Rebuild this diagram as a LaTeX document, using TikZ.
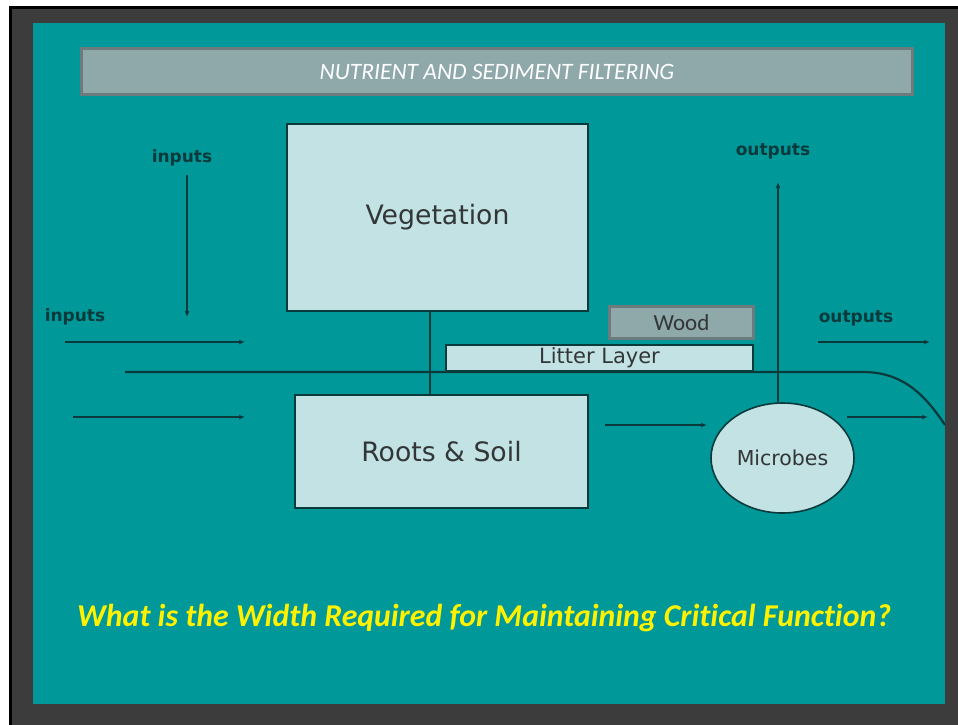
\documentclass[tikz,border=0pt]{standalone}
\usepackage{fontspec}
\usetikzlibrary{arrows.meta,shapes.geometric}

\newfontfamily\calfont[Ligatures=NoCommon]{Carlito}
\newfontfamily\dvfont{DejaVu Sans}

\definecolor{frame}{RGB}{60,60,60}
\definecolor{panel}{RGB}{0,152,152}
\definecolor{barfill}{RGB}{143,168,170}
\definecolor{barline}{RGB}{108,124,126}
\definecolor{boxfill}{RGB}{194,226,228}
\definecolor{ink}{RGB}{10,58,60}
\definecolor{textgray}{RGB}{50,54,54}

\begin{document}
\begin{tikzpicture}[x=1pt, y=-1pt,
    pool/.style={draw=ink, fill=boxfill, line width=1.6pt, inner sep=0pt, font=\dvfont\fontsize{26.7}{30}\selectfont\color{textgray}},
    strip/.style={draw=barline, fill=barfill, line width=3pt, inner sep=0pt},
    flow/.style={line width=2.2pt, draw=ink},
    arrow/.style={flow, -{Latex[length=6pt, width=5pt]}},
    flowlabel/.style={font=\dvfont\bfseries\fontsize{17}{20}\selectfont\color{ink}}
]

    % Background and panel
    \useasboundingbox (0,0) rectangle (958,724);
    \fill[white] (0,0) rectangle (958,724);
    \filldraw[fill=frame, draw=black, line width=3pt] (10,7) rectangle (962,728);
    \fill[panel] (33,23) rectangle (945,704);

    % Title bar
    \node[strip, minimum width=831pt, minimum height=46pt, font=\calfont\itshape\fontsize{23.5}{26}\selectfont\color{white}] (title) at (497,71.5) {NUTRIENT AND SEDIMENT FILTERING};

    % Flow lines
    \coordinate (flowA) at (125,372);
    \coordinate (flowB) at (863,372);
    \coordinate (flowC) at (945,425);
    \draw[flow] (flowA) -- (flowB) .. controls (903,372) and (925,395) .. (flowC);

    % Pools
    \node[pool, minimum width=301pt, minimum height=187pt] (veg) at (437.5,217.5) {Vegetation};
    \node[pool, minimum width=293pt, minimum height=113pt] (roots) at (441.5,451.5) {Roots \& Soil};
    \node[pool, minimum width=307pt, minimum height=26pt, font=\dvfont\fontsize{21}{24}\selectfont\color{textgray}] (litter) at (599.5,358) {Litter Layer};
    \node[strip, minimum width=144pt, minimum height=32pt, font=\calfont\fontsize{23}{26}\selectfont\color{textgray}] (wood) at (681.5,322.5) {Wood};
    \node[pool, ellipse, minimum width=143pt, minimum height=110pt, font=\dvfont\fontsize{20.5}{24}\selectfont\color{textgray}] (mic) at (782.5,458) {Microbes};

    % Stem between vegetation and roots
    \coordinate (stem) at (430,0);
    \draw[flow] (veg.south -| stem) -- (roots.north -| stem);

    % Inputs
    \node[flowlabel] (intop) at (182,158) {inputs};
    \node[flowlabel] (inleft) at (75,317) {inputs};
    \coordinate (inT1) at (187,175);
    \coordinate (inT2) at (187,317);
    \coordinate (inA1) at (65,342);
    \coordinate (inA2) at (245,342);
    \coordinate (inB1) at (73,417);
    \coordinate (inB2) at (245,417);
    \draw[arrow] (inT1) -- (inT2);
    \draw[arrow] (inA1) -- (inA2);
    \draw[arrow] (inB1) -- (inB2);

    % Roots to microbes
    \coordinate (rm1) at (605,425);
    \coordinate (rm2) at (707,425);
    \draw[arrow] (rm1) -- (rm2);

    % Outputs
    \node[flowlabel] (outtop) at (773,151) {outputs};
    \node[flowlabel] (outright) at (856,318) {outputs};
    \coordinate (outT) at (778,182);
    \draw[arrow] (mic.north -| outT) -- (outT);
    \coordinate (outA1) at (818,342);
    \coordinate (outA2) at (930,342);
    \coordinate (outB1) at (847,417);
    \coordinate (outB2) at (928,417);
    \draw[arrow] (outA1) -- (outA2);
    \draw[arrow] (outB1) -- (outB2);

    % Question
    \node[font=\calfont\bfseries\itshape\fontsize{31.8}{36}\selectfont\color{yellow}] (question) at (484,618) {What is the Width Required for Maintaining Critical Function?};

\end{tikzpicture}
\end{document}
